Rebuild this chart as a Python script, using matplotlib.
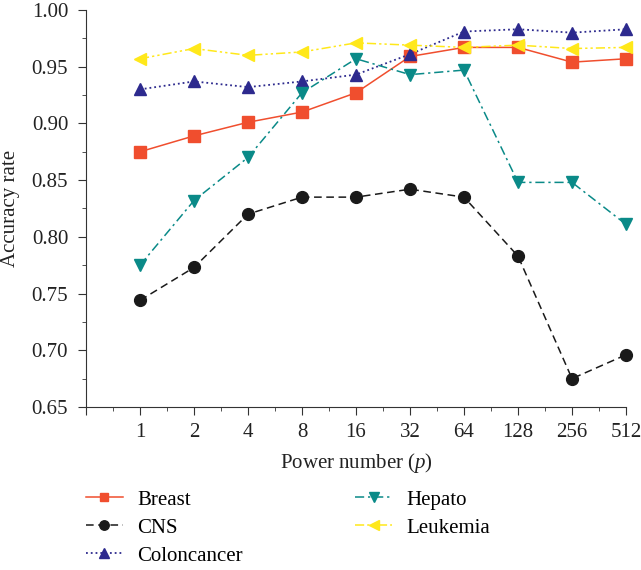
import matplotlib.pyplot as plt
import numpy as np

plt.rcParams['font.family'] = ['Liberation Serif', 'DejaVu Serif']
plt.rcParams['mathtext.fontset'] = 'custom'
plt.rcParams['mathtext.it'] = 'Liberation Serif:italic'
plt.rcParams['mathtext.rm'] = 'Liberation Serif'

# Data
powers = ['1', '2', '4', '8', '16', '32', '64', '128', '256', '512']
breast = [0.875, 0.889, 0.901, 0.910, 0.927, 0.959, 0.967, 0.967, 0.954, 0.957]
cns = [0.744, 0.773, 0.820, 0.835, 0.835, 0.842, 0.835, 0.783, 0.675, 0.696]
colon = [0.930, 0.937, 0.932, 0.937, 0.943, 0.961, 0.981, 0.983, 0.980, 0.983]
hepato = [0.775, 0.832, 0.870, 0.927, 0.957, 0.943, 0.947, 0.848, 0.848, 0.811]
leukemia = [0.957, 0.966, 0.960, 0.963, 0.971, 0.969, 0.967, 0.969, 0.966, 0.967]

x = np.arange(1, len(powers) + 1)

fig = plt.figure(figsize=(6.41, 5.70), dpi=100)
ax = fig.add_axes([0.1342, 0.2860, 0.8424, 0.6965])

ms = 8
lw = 1.1
l1, = ax.plot(x, breast, '-', color='#F04E2E', marker='s', ms=ms, lw=lw, label='Breast', clip_on=False)
l2, = ax.plot(x, cns, '--', color='#1A1A1A', marker='o', ms=ms + 0.5, lw=lw, label='CNS',
              dashes=(5, 3), clip_on=False)
l3, = ax.plot(x, colon, ':', color='#2D2A8E', marker='^', ms=ms + 1, lw=lw + 0.2, label='Coloncancer',
              clip_on=False)
l4, = ax.plot(x, hepato, '-.', color='#0A8A88', marker='v', ms=ms + 1, lw=lw, label='Hepato',
              dashes=(6, 2.5, 1.5, 2.5), clip_on=False)
l5, = ax.plot(x, leukemia, '-.', color='#FFE81A', marker='<', ms=ms + 1, lw=lw, label='Leukemia',
              dashes=(6, 2, 1.5, 2, 1.5, 2), clip_on=False)

ax.set_xlim(0, 10)
ax.set_ylim(0.65, 1.00)
ax.set_xticks(np.arange(0, 11))
ax.set_xticklabels([''] + powers)
ax.set_xticks(np.arange(0.5, 10, 1), minor=True)
ax.set_yticks(np.arange(0.65, 1.001, 0.05))
ax.set_yticklabels(['%.2f' % v for v in np.arange(0.65, 1.001, 0.05)])
ax.set_yticks(np.arange(0.675, 1.0, 0.05), minor=True)

for s in ['top', 'right']:
    ax.spines[s].set_visible(False)
ax.spines['left'].set_color('#333333')
ax.spines['bottom'].set_color('#333333')
ax.tick_params(which='major', direction='out', length=5.8, labelsize=15, colors='#333333',
               labelcolor='#222222')
ax.tick_params(axis='x', which='major', pad=6)
ax.tick_params(axis='y', which='major', pad=7)
ax.tick_params(which='minor', direction='out', length=3, colors='#333333')

ax.set_xlabel('Power number ($\\it{p}$)', fontsize=15, color='#222222', labelpad=6)
ax.set_ylabel('Accuracy rate', fontsize=15, color='#222222')
ax.yaxis.set_label_coords(-0.122, 0.5)

fig.legend(handles=[l1, l2, l3, l4, l5], loc='upper left', bbox_to_anchor=(0.134, 0.14),
           ncol=2, frameon=False, fontsize=15, columnspacing=5.4, handlelength=1.78,
           handletextpad=0.67, labelspacing=0.4, markerscale=0.8, borderpad=0,
           borderaxespad=0)

fig.savefig('out.png', dpi=100)
